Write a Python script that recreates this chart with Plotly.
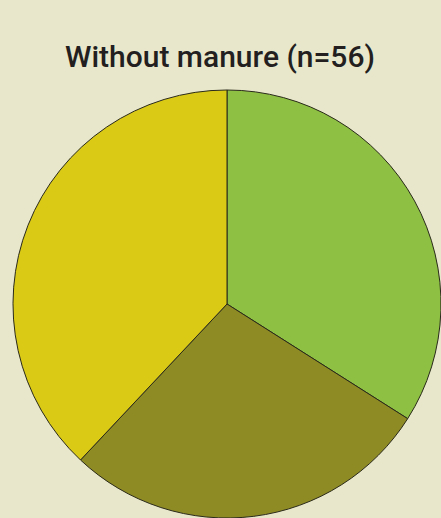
import plotly.graph_objects as go

categories = ["Category A", "Category B", "Category C"]
values = [34, 28, 38]
colors = ["#8DC043", "#8F8B24", "#DAC915"]
title_text = "Without manure (n=56)"

W, H = 441, 518
cx, cy, r = 227, 304, 214

fig = go.Figure(go.Pie(
    labels=categories,
    values=values,
    sort=False,
    direction="clockwise",
    rotation=0,
    textinfo="none",
    hoverinfo="label+percent",
    marker=dict(colors=colors, line=dict(color="#2a2a1a", width=1)),
    domain=dict(x=[(cx - r) / W, (cx + r) / W], y=[(H - cy - r) / H, (H - cy + r) / H]),
    showlegend=False,
))

fig.add_annotation(
    text=title_text,
    x=220 / W, y=(H - 56) / H, xref="paper", yref="paper",
    xanchor="center", yanchor="middle", showarrow=False,
    font=dict(family="Roboto, Liberation Sans, Arial, sans-serif", size=30, weight=500, color="#231f20"),
)

fig.update_layout(
    width=W, height=H,
    margin=dict(l=0, r=0, t=0, b=0),
    paper_bgcolor="#E9E7CB",
    plot_bgcolor="#E9E7CB",
)

fig.write_html(
    "out.html",
    config={"displayModeBar": False},
    post_script="document.body.style.margin='0';document.body.style.overflow='hidden';document.documentElement.style.background='#E9E7CB';",
)
